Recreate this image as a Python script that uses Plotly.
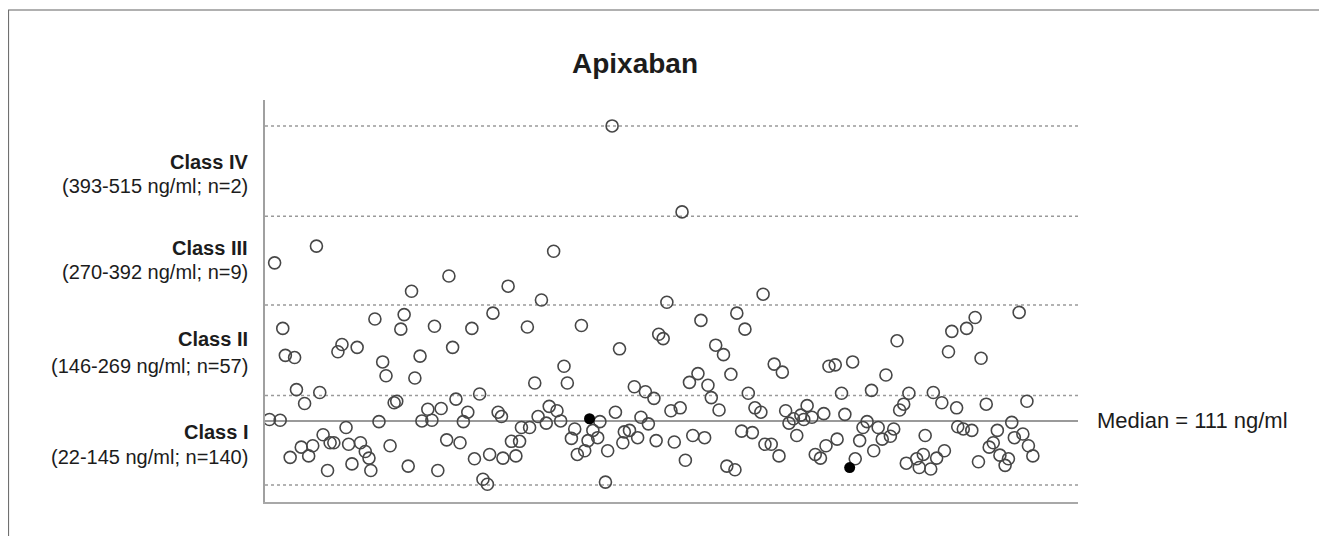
import plotly.graph_objects as go

# Patient order (x) and apixaban concentration in ng/ml (y), open circles
patient = [
    1.2, 2.6, 4.1, 4.8, 5.5, 6.8, 8.0, 8.5, 9.8, 10.7, 11.8, 12.9, 13.9, 14.8, 15.7, 16.9, 17.6, 18.6, 19.7, 20.8,
    21.9, 22.6, 23.5, 24.9, 25.8, 27.1, 28.1, 28.6, 29.7, 30.8, 31.8, 32.7, 33.8, 34.9, 35.6, 36.7, 37.6, 38.7, 39.6, 40.5,
    41.9, 42.4, 44.0, 45.1, 45.8, 46.7, 47.6, 49.1, 49.7, 50.7, 51.6, 52.7, 53.6, 54.8, 55.9, 56.6, 58.0, 58.9, 60.1, 60.7,
    61.6, 63.0, 63.9, 64.3, 65.7, 66.6, 67.8, 68.8, 69.3, 70.9, 71.5, 72.9, 73.8, 74.7, 76.0, 76.8, 78.0, 78.9, 79.9, 80.8,
    81.7, 82.8, 83.7, 84.4, 85.5, 86.4, 87.3, 88.6, 89.9, 90.5, 92.0, 92.6, 93.8, 94.7, 95.8, 96.7, 97.1, 98.5, 99.8, 100.7,
    101.6, 102.8, 103.6, 105.1, 105.7, 106.4, 107.6, 108.6, 109.7, 110.6, 112.2, 112.7, 113.6, 114.7, 115.6, 117.0, 117.8, 118.8, 119.7, 120.6,
    121.8, 122.7, 123.9, 124.8, 125.9, 127.0, 127.5, 128.8, 129.7, 130.6, 131.7, 132.4, 134.0, 134.6, 135.1, 136.8, 137.6, 138.9, 139.8, 140.7,
    141.6, 142.8, 143.7, 144.8, 145.6, 146.5, 147.8, 148.7, 150.1, 151.0, 151.6, 152.4, 154.1, 154.6, 155.8, 156.7, 158.8, 159.5, 160.7, 161.6,
    162.7, 163.9, 164.5, 165.7, 166.8, 167.8, 169.0, 169.9, 170.8, 171.5, 172.6, 173.3, 174.0, 176.1, 176.8, 177.9, 178.4, 179.9, 180.6, 181.5,
    182.9, 183.6, 184.7, 185.6, 186.9, 187.2, 188.7, 189.6, 191.0, 191.9, 192.8, 193.5, 194.9, 195.7, 196.8, 197.9, 198.6, 200.0, 200.9, 201.8,
    202.5, 203.8, 204.8, 205.9, 206.3, 207.5,
]
concentration = [
    112, 327, 111, 237, 200, 60, 197, 153, 74, 134, 62, 76, 350, 149, 91, 42, 80, 80, 205, 215,
    101, 78, 51, 211, 80, 68, 59, 42, 250, 109, 191, 172, 76, 135, 137, 236, 256, 48, 288, 169,
    199, 110, 126, 111, 240, 42, 127, 84, 309, 211, 140, 80, 109, 122, 237, 58, 147, 30, 23, 64,
    258, 122, 116, 59, 295, 82, 62, 82, 101, 239, 101, 162, 116, 276, 107, 130, 343, 124, 110, 185,
    162, 86, 99, 64, 241, 69, 83, 97, 87, 109, 26, 69, 515, 122, 209, 80, 95, 97, 157, 87,
    115, 150, 106, 141, 83, 229, 223, 273, 124, 81, 128, 397, 56, 163, 90, 175, 248, 87, 159, 142,
    214, 125, 201, 48, 174, 43, 258, 96, 236, 148, 94, 128, 122, 284, 78, 78, 188, 62, 177, 124,
    107, 113, 90, 118, 112, 131, 115, 64, 59, 120, 76, 185, 187, 85, 148, 119, 191, 58, 83, 101,
    109, 152, 69, 101, 85, 173, 89, 99, 220, 125, 133, 52, 148, 58, 46, 64, 90, 44, 149, 59,
    135, 69, 205, 233, 128, 102, 99, 237, 97, 252, 54, 196, 133, 74, 80, 97, 63, 49, 58, 108,
    87, 259, 92, 137, 76, 62,
]

# Highlighted patients (filled circles)
patient_filled = [87.7, 158.0]
concentration_filled = [113, 46]

# Class boundaries (dotted lines) and median
class_bounds = [515, 391, 269, 145, 22]
median_value = 110
median_text = "Median = 111 ng/ml"

class_names = ["Class IV", "Class III", "Class II", "Class I"]
class_ranges = ["(393-515 ng/ml; n=2)", "(270-392 ng/ml; n=9)",
                "(146-269 ng/ml; n=57)", "(22-145 ng/ml; n=140)"]
class_name_y = [466, 348, 222, 95]
class_range_y = [432, 314, 185, 60]

FONT = "Liberation Sans, Arial, Helvetica, sans-serif"
TXT = "#1c1c1c"

fig = go.Figure()

fig.add_trace(go.Scatter(
    x=patient, y=concentration, mode="markers",
    marker=dict(symbol="circle-open", size=12, color="#474747", line=dict(width=1.6, color="#474747")),
    hoverinfo="skip", showlegend=False,
))
fig.add_trace(go.Scatter(
    x=patient_filled, y=concentration_filled, mode="markers",
    marker=dict(symbol="circle", size=11, color="#000000"),
    hoverinfo="skip", showlegend=False,
))

for b in class_bounds:
    fig.add_shape(type="line", xref="paper", x0=0, x1=1, yref="y", y0=b, y1=b,
                  line=dict(color="#9a9a9a", width=1.5, dash="dot"), layer="below")

fig.add_shape(type="line", xref="paper", x0=0, x1=1, yref="y", y0=median_value, y1=median_value,
              line=dict(color="#9a9a9a", width=2), layer="below")

# outer frame (top and left edges of the figure panel)
fig.add_shape(type="line", xref="paper", yref="paper", x0=-0.316, x1=1.31, y0=1.224, y1=1.224,
              line=dict(color="#b0b0b0", width=2))
fig.add_shape(type="line", xref="paper", yref="paper", x0=-0.316, x1=-0.316, y0=1.224, y1=-0.1,
              line=dict(color="#707070", width=2))

annotations = []
annotations.append(dict(text="<b>Apixaban</b>", xref="paper", yref="paper", x=0.455, y=1.092,
                        xanchor="center", yanchor="middle", showarrow=False,
                        font=dict(family=FONT, size=28, color=TXT)))
for name, rng, yn, yr in zip(class_names, class_ranges, class_name_y, class_range_y):
    annotations.append(dict(text="<b>" + name + "</b>", xref="paper", yref="y", x=-0.018, y=yn,
                            xanchor="right", yanchor="middle", showarrow=False,
                            font=dict(family=FONT, size=20, color=TXT)))
    annotations.append(dict(text=rng, xref="paper", yref="y", x=-0.019, y=yr,
                            xanchor="right", yanchor="middle", showarrow=False,
                            font=dict(family=FONT, size=20, color=TXT)))
annotations.append(dict(text=median_text, xref="paper", yref="y", x=1.021, y=median_value,
                        xanchor="left", yanchor="middle", showarrow=False,
                        font=dict(family=FONT, size=22, color=TXT)))

fig.update_layout(
    width=1319, height=528,
    margin=dict(l=257, r=249, t=92, b=34),
    paper_bgcolor="white", plot_bgcolor="white",
    annotations=annotations,
    xaxis=dict(range=[0, 219.7], showgrid=False, zeroline=False, showticklabels=False, ticks="",
               showline=True, linecolor="#a8a8a8", linewidth=2),
    yaxis=dict(range=[-1.3, 550.6], showgrid=False, zeroline=False, showticklabels=False, ticks="",
               showline=True, linecolor="#a0a0a0", linewidth=2),
)

fig.write_html("out.html")
